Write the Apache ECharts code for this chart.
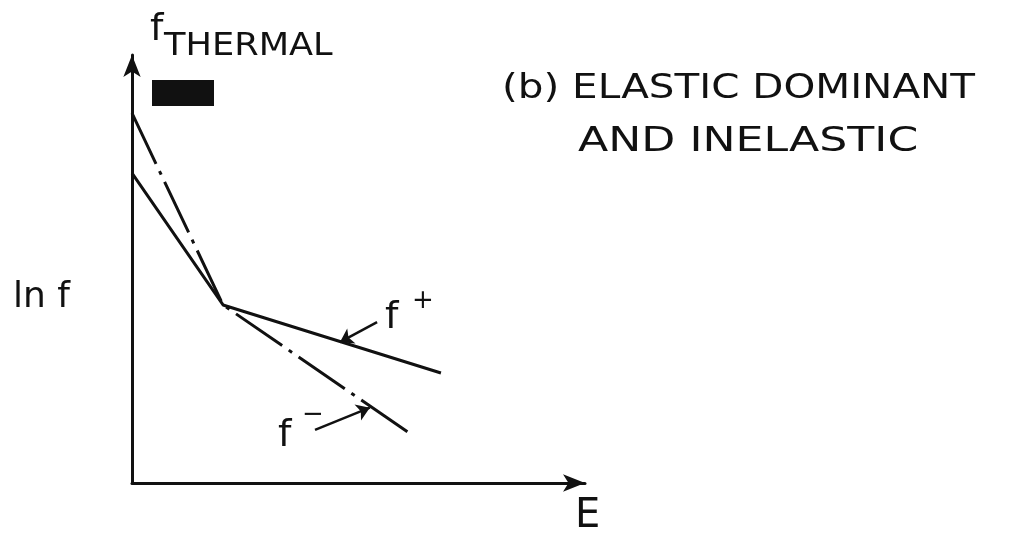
<!DOCTYPE html>
<html>
<head>
<meta charset="utf-8">
<title>ELASTIC DOMINANT AND INELASTIC</title>
<script src="https://cdn.jsdelivr.net/npm/echarts@6/dist/echarts.min.js"></script>
<style>
  html, body { margin: 0; padding: 0; background: #fff; }
  #chart { width: 1017px; height: 533px; }
</style>
</head>
<body>
<div id="chart"></div>
<script>
// energy (E) and ln f readings, arbitrary units 0..10
const fMinusE = [0, 2.01, 6.09];
const fMinusLnF = [8.64, 4.16, 1.19];
const fPlusE = [0, 2.01, 6.82];
const fPlusLnF = [7.24, 4.16, 2.57];

// pointer arrows for the curve labels (from label -> to curve)
const fPlusPointer = [[5.41, 3.76], [4.59, 3.29]];
const fMinusPointer = [[4.04, 1.24], [5.25, 1.76]];

const ink = '#111';
const font = '"DejaVu Sans", "Liberation Sans", sans-serif';

const toPairs = (xs, ys) => xs.map((x, i) => [x, ys[i]]);

const hiddenAxis = {
  type: 'value',
  min: 0,
  max: 10,
  axisLabel: { show: false },
  axisTick: { show: false },
  splitLine: { show: false },
  axisLine: {
    show: true,
    symbol: ['none', 'arrow'],
    symbolSize: [13, 22],
    lineStyle: { color: ink, width: 3 }
  }
};

const pointer = (pts) => ({
  silent: true,
  symbol: ['none', 'arrow'],
  symbolSize: 13,
  label: { show: false },
  lineStyle: { color: ink, width: 2.5, type: 'solid' },
  data: [[{ coord: pts[0] }, { coord: pts[1] }]]
});

const text = (str, x, y, size, extra) => Object.assign({
  type: 'text',
  x: x,
  y: y,
  silent: true,
  style: {
    text: str,
    x: 0,
    y: 0,
    fill: ink,
    font: size + 'px ' + font,
    textAlign: 'left',
    textVerticalAlign: 'middle'
  }
}, extra || {});

const chart = echarts.init(document.getElementById('chart'));

chart.setOption({
  animation: false,
  backgroundColor: '#fff',
  grid: { left: 132, right: 432, top: 55, bottom: 50 },
  xAxis: hiddenAxis,
  yAxis: hiddenAxis,
  series: [
    {
      name: 'f-',
      type: 'line',
      symbol: 'none',
      data: toPairs(fMinusE, fMinusLnF),
      lineStyle: { color: ink, width: 3, type: [56, 8, 4, 8] },
      markLine: pointer(fMinusPointer)
    },
    {
      name: 'f+',
      type: 'line',
      symbol: 'none',
      data: toPairs(fPlusE, fPlusLnF),
      lineStyle: { color: ink, width: 3 },
      markLine: pointer(fPlusPointer)
    }
  ],
  graphic: [
    text('f', 150, 30, 38),
    text('THERMAL', 164, 47, 32, { scaleX: 1.1 }),
    { type: 'rect', shape: { x: 152, y: 80, width: 62, height: 26 }, style: { fill: ink }, silent: true },
    text('(b) ELASTIC DOMINANT', 502, 89, 34, { scaleX: 1.19 }),
    text('AND INELASTIC', 578, 142, 34, { scaleX: 1.3 }),
    text('ln f', 13, 298, 36),
    text('E', 575, 517, 40),
    text('f', 385, 318, 38),
    text('+', 412, 301, 26),
    text('f', 278, 436, 38),
    text('\u2212', 302, 415, 26)
  ]
});
</script>
</body>
</html>
